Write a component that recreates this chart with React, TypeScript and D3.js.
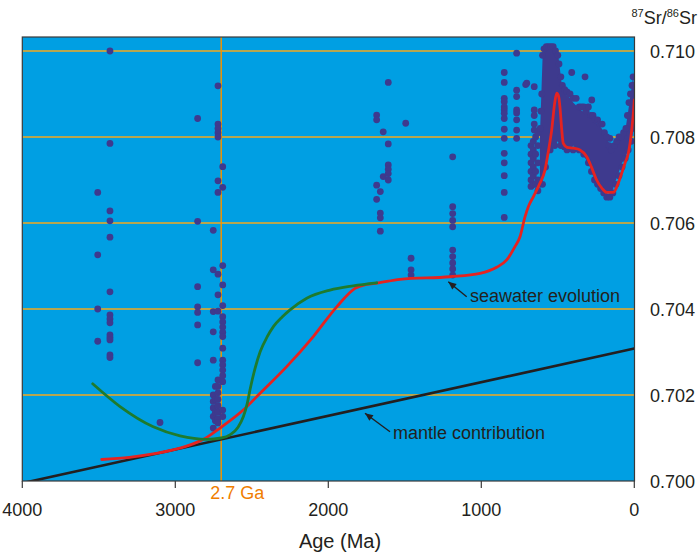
import { useEffect, useRef } from "react";
import * as d3 from "d3";

// ages in Ma, values are 87Sr/86Sr
const xTicks = [4000, 3000, 2000, 1000, 0];
const yTicks = [0.7, 0.702, 0.704, 0.706, 0.708, 0.71];
const gridValues = [0.702, 0.704, 0.706, 0.708, 0.71];

// archean / proterozoic measurements
const archeanPts: [number, number][] = [
  [3427, 0.71], [3427, 0.70785], [3427, 0.70628], [3427, 0.70605], [3427, 0.70567],
  [3427, 0.7044], [3427, 0.70386], [3427, 0.70377], [3427, 0.70368], [3427, 0.7034],
  [3427, 0.70334], [3427, 0.70328], [3427, 0.70293], [3427, 0.70287],
  [3507, 0.70671], [3507, 0.70526], [3507, 0.704], [3507, 0.70325],
  [3100, 0.70136],
  [2854, 0.70843], [2854, 0.70604], [2854, 0.70452], [2854, 0.70405], [2854, 0.70392],
  [2854, 0.70363], [2854, 0.70275],
  [2752, 0.70583], [2752, 0.70491], [2752, 0.70394], [2752, 0.70347], [2752, 0.70281],
  [2752, 0.702], [2752, 0.70185], [2752, 0.7017], [2752, 0.7015], [2752, 0.70123],
  [2738, 0.7022], [2738, 0.7019], [2738, 0.7016], [2738, 0.7014],
  [2721, 0.70919], [2721, 0.7083], [2721, 0.7082], [2721, 0.7081], [2721, 0.708],
  [2721, 0.70698], [2721, 0.70671], [2721, 0.70481], [2721, 0.70433], [2721, 0.70395],
  [2721, 0.70235], [2721, 0.7022], [2721, 0.70205], [2721, 0.7019], [2721, 0.70175],
  [2721, 0.7016], [2721, 0.70145], [2721, 0.70135],
  [2690, 0.70731], [2690, 0.70683], [2690, 0.70501], [2690, 0.70456], [2690, 0.70408],
  [2690, 0.70382], [2690, 0.7037], [2690, 0.70358], [2690, 0.70346], [2690, 0.70336],
  [2690, 0.70309], [2690, 0.70281], [2690, 0.7027], [2690, 0.70258], [2690, 0.70245],
  [2690, 0.70231], [2690, 0.70165], [2690, 0.7015],
  [1684, 0.70851], [1684, 0.7084], [1684, 0.70688], [1684, 0.70655],
  [1660, 0.70673], [1660, 0.70623], [1660, 0.70612], [1660, 0.70581],
  [1641, 0.70812], [1641, 0.70708],
  [1608, 0.70927], [1608, 0.70784], [1608, 0.70735], [1608, 0.70725], [1608, 0.70715], [1608, 0.707],
  [1494, 0.70832],
  [1459, 0.70518], [1459, 0.70491], [1459, 0.70479],
  [1187, 0.70754], [1187, 0.70638], [1187, 0.70622], [1187, 0.70606], [1187, 0.70591],
  [1187, 0.70537], [1187, 0.70522], [1187, 0.70507], [1187, 0.70493], [1187, 0.70479],
];

// neoproterozoic + phanerozoic measurements
const youngPts: [number, number][] = [
  [850, 0.7095], [850, 0.70927], [850, 0.7089], [850, 0.70882], [850, 0.7087], [850, 0.70863],
  [850, 0.70855], [850, 0.70843], [850, 0.70818], [850, 0.70797], [850, 0.70762], [850, 0.7074],
  [850, 0.7071], [850, 0.70671], [850, 0.70613],
  [769, 0.70995], [769, 0.70909], [769, 0.70894], [769, 0.70863], [769, 0.70856], [769, 0.7084],
  [769, 0.70816], [769, 0.70797],
  [710, 0.70922], [703, 0.70925],
  [654, 0.70917], [654, 0.70863], [654, 0.7085], [654, 0.7083], [654, 0.70816],
  [675, 0.7078], [675, 0.7076], [675, 0.7074], [675, 0.7072], [675, 0.707], [675, 0.70685],
  [660, 0.7079], [660, 0.7077], [660, 0.7075], [660, 0.7073], [660, 0.7071], [660, 0.7069],
  [645, 0.708], [645, 0.7076], [645, 0.7072], [645, 0.7069],
  [630, 0.7081], [630, 0.7078], [630, 0.7074], [630, 0.707], [630, 0.70675],
  [409, 0.7095], [322, 0.7094], [278, 0.70886], [159, 0.70797],
  // upper edge of the dense cloud
  [600, 0.7099], [590, 0.71005], [575, 0.7101], [560, 0.7101], [545, 0.7101], [530, 0.7101],
  [515, 0.71], [500, 0.7099], [492, 0.7097], [605, 0.709], [610, 0.7086], [615, 0.7082],
  [480, 0.7094], [470, 0.7092], [455, 0.7091], [440, 0.70905], [420, 0.709], [400, 0.7089],
  [380, 0.7089], [360, 0.7087], [345, 0.7087], [330, 0.7087], [315, 0.7086], [300, 0.7087],
  [285, 0.7085], [270, 0.7085], [255, 0.7084], [240, 0.7084], [225, 0.7083], [210, 0.7083],
  [195, 0.7081], [180, 0.708], [165, 0.7078], [150, 0.7077], [130, 0.7078], [115, 0.7079],
  [100, 0.708], [85, 0.708], [70, 0.7081], [55, 0.7082], [45, 0.7085], [35, 0.7088],
  [25, 0.709], [15, 0.7092], [8, 0.7094], [3, 0.7092],
  // lower edge of the dense cloud
  [600, 0.7069], [580, 0.7073], [550, 0.7077], [520, 0.7078], [480, 0.7078], [440, 0.7077],
  [400, 0.7077], [360, 0.7077], [330, 0.7076], [300, 0.7074], [280, 0.7072], [260, 0.707],
  [240, 0.7069], [220, 0.7068], [200, 0.7067], [180, 0.7066], [160, 0.7066], [140, 0.7067],
  [120, 0.7069], [100, 0.7071], [80, 0.7073], [60, 0.7075], [40, 0.7077], [20, 0.7079], [5, 0.7082],
];

// dense overlapping part of the cloud (< 620 Ma)
const cloudAge = [617, 600, 590, 560, 520, 500, 490, 470, 450, 420, 400, 370, 340, 300, 270, 240, 213, 180, 148, 120, 100, 80, 61, 40, 20, 8, 0];
const cloudHi = [0.708, 0.7098, 0.7101, 0.7101, 0.7101, 0.71, 0.7097, 0.7091, 0.709, 0.7089, 0.7088, 0.7087, 0.7086, 0.7086, 0.7084, 0.7083, 0.7082, 0.708, 0.7077, 0.7078, 0.7079, 0.708, 0.7081, 0.7086, 0.7091, 0.7094, 0.709];
const cloudLo = [0.7068, 0.7069, 0.7072, 0.7076, 0.7078, 0.7079, 0.7078, 0.7077, 0.7077, 0.7077, 0.7078, 0.7077, 0.7076, 0.7074, 0.7071, 0.7069, 0.7068, 0.7067, 0.7067, 0.707, 0.7072, 0.7074, 0.7075, 0.7077, 0.7079, 0.7081, 0.7083];

const seawater: [number, number][] = [
  [3481, 0.7005], [3300, 0.70055], [3144, 0.70063], [2926, 0.70081], [2800, 0.701],
  [2708, 0.70123], [2556, 0.70165], [2446, 0.70204], [2272, 0.70266], [2098, 0.70336],
  [1945, 0.70405], [1825, 0.70448], [1750, 0.70457], [1684, 0.7046], [1531, 0.70469],
  [1205, 0.70475], [1008, 0.70483], [900, 0.70497], [834, 0.70514], [780, 0.70545],
  [747, 0.70568], [714, 0.70615], [690, 0.7064], [660, 0.70661], [620, 0.7069],
  [584, 0.70723], [560, 0.7077], [540, 0.70816], [520, 0.7088], [507, 0.70902],
  [495, 0.70895], [486, 0.7087], [475, 0.7082], [464, 0.70785], [440, 0.70776],
  [399, 0.70774], [355, 0.7077], [311, 0.70754], [280, 0.7073], [246, 0.707],
  [210, 0.7068], [180, 0.70671], [137, 0.70671], [110, 0.70688], [82, 0.70716],
  [60, 0.7074], [39, 0.70762], [17, 0.70816], [5, 0.7086], [0, 0.70886],
];

const earlyModel: [number, number][] = [
  [3540, 0.70226], [3361, 0.70173], [3144, 0.70126], [2969, 0.70105], [2795, 0.70097],
  [2700, 0.701], [2640, 0.70108], [2590, 0.70125], [2555, 0.7015], [2530, 0.7018],
  [2510, 0.70215], [2480, 0.7026], [2446, 0.703], [2400, 0.70335], [2359, 0.70359],
  [2300, 0.70382], [2250, 0.70398], [2141, 0.70425], [1989, 0.70444], [1837, 0.70454],
  [1684, 0.70461],
];

const mantle: [number, number][] = [[4000, 0.69995], [0, 0.70308]];

const W = 700;
const H = 555;
const plot = { left: 22.3, right: 634.5, top: 37, bottom: 481 };

const bg = "#009fe3";
const gridCol = "#f4a81d";
const dotCol = "#3e3a8e";
const ink = "#231f20";
const font = "Arial, 'Liberation Sans', Helvetica, sans-serif";

export default function App() {
  const ref = useRef<SVGSVGElement>(null);

  useEffect(() => {
    const svg = d3.select(ref.current);
    svg.selectAll("*").remove();

    const x = d3.scaleLinear().domain([4000, 0]).range([22.3, 634.3]);
    const y = d3.scaleLinear().domain([0.7, 0.71]).range([481, 51]);

    svg.append("defs").append("clipPath").attr("id", "pclip")
      .append("rect")
      .attr("x", plot.left).attr("y", plot.top)
      .attr("width", plot.right - plot.left).attr("height", plot.bottom - plot.top);

    // background
    svg.append("rect")
      .attr("x", plot.left).attr("y", plot.top)
      .attr("width", plot.right - plot.left).attr("height", plot.bottom - plot.top)
      .attr("fill", bg);

    const g = svg.append("g").attr("clip-path", "url(#pclip)");

    // grid
    g.selectAll(".grid").data(gridValues).enter().append("line")
      .attr("x1", plot.left).attr("x2", plot.right)
      .attr("y1", (d) => y(d)).attr("y2", (d) => y(d))
      .attr("stroke", gridCol).attr("stroke-width", 1.3);

    // 2.7 Ga marker
    g.append("line")
      .attr("x1", x(2700)).attr("x2", x(2700))
      .attr("y1", plot.top).attr("y2", plot.bottom)
      .attr("stroke", "#f39200").attr("stroke-width", 1.5);

    // dense cloud
    const area = d3.area<number>()
      .x((_, i) => x(cloudAge[i]))
      .y0((_, i) => y(cloudLo[i]))
      .y1((_, i) => y(cloudHi[i]));
    g.append("path").datum(cloudAge).attr("d", area).attr("fill", dotCol);

    g.selectAll(".dot").data([...archeanPts, ...youngPts]).enter().append("circle")
      .attr("cx", (d) => x(d[0])).attr("cy", (d) => y(d[1]))
      .attr("r", 3.4).attr("fill", dotCol);

    const line = d3.line<[number, number]>()
      .x((d) => x(d[0])).y((d) => y(d[1]))
      .curve(d3.curveMonotoneX);

    g.append("path").datum(mantle)
      .attr("d", d3.line<[number, number]>().x((d) => x(d[0])).y((d) => y(d[1])))
      .attr("fill", "none").attr("stroke", ink).attr("stroke-width", 2.6);

    g.append("path").datum(seawater).attr("d", line)
      .attr("fill", "none").attr("stroke", "#e52320").attr("stroke-width", 2.8)
      .attr("stroke-linecap", "round");

    g.append("path").datum(earlyModel).attr("d", line)
      .attr("fill", "none").attr("stroke", "#1e7b2e").attr("stroke-width", 2.8)
      .attr("stroke-linecap", "round");

    // annotations
    const arrow = (x1: number, y1: number, x2: number, y2: number) => {
      svg.append("line")
        .attr("x1", x1).attr("y1", y1).attr("x2", x2).attr("y2", y2)
        .attr("stroke", ink).attr("stroke-width", 1.4);
      const ang = Math.atan2(y2 - y1, x2 - x1);
      const L = 8, Wd = 3.5;
      const bx = x2 - L * Math.cos(ang), by = y2 - L * Math.sin(ang);
      svg.append("path")
        .attr("d", `M${x2},${y2}L${bx - Wd * Math.sin(ang)},${by + Wd * Math.cos(ang)}L${bx + Wd * Math.sin(ang)},${by - Wd * Math.cos(ang)}Z`)
        .attr("fill", ink);
    };
    arrow(466.7, 296.7, 448.3, 281.7);
    arrow(390, 431.7, 365, 413.3);

    svg.append("text").attr("x", 470).attr("y", 302)
      .attr("font-family", font).attr("font-size", 18).attr("fill", ink)
      .text("seawater evolution");
    svg.append("text").attr("x", 393).attr("y", 438.5)
      .attr("font-family", font).attr("font-size", 18).attr("fill", ink)
      .text("mantle contribution");

    // frame
    svg.append("rect")
      .attr("x", plot.left).attr("y", plot.top)
      .attr("width", plot.right - plot.left).attr("height", plot.bottom - plot.top)
      .attr("fill", "none").attr("stroke", "#3a3a3a").attr("stroke-width", 1.2);

    // x axis
    const xa = svg.append("g");
    xa.selectAll("line").data(xTicks).enter().append("line")
      .attr("x1", (d) => x(d)).attr("x2", (d) => x(d))
      .attr("y1", plot.bottom).attr("y2", plot.bottom + 7)
      .attr("stroke", "#3a3a3a").attr("stroke-width", 1.2);
    xa.selectAll("text").data(xTicks).enter().append("text")
      .attr("x", (d) => x(d)).attr("y", 515.5)
      .attr("text-anchor", "middle")
      .attr("font-family", font).attr("font-size", 18).attr("fill", ink)
      .text((d) => String(d));

    svg.append("text").attr("x", 340).attr("y", 548)
      .attr("text-anchor", "middle")
      .attr("font-family", font).attr("font-size", 20).attr("fill", ink)
      .text("Age (Ma)");

    svg.append("text").attr("x", x(2700) + 16).attr("y", 498.5)
      .attr("text-anchor", "middle")
      .attr("font-family", font).attr("font-size", 18).attr("fill", "#f07d00")
      .text("2.7 Ga");

    // y labels on the right
    svg.append("g").selectAll("text").data(yTicks).enter().append("text")
      .attr("x", 650).attr("y", (d) => y(d) + 6.5)
      .attr("font-family", font).attr("font-size", 18).attr("fill", ink)
      .text((d) => d3.format(".3f")(d));

    // 87Sr/86Sr
    const t = svg.append("text").attr("x", 697).attr("y", 24)
      .attr("text-anchor", "end")
      .attr("font-family", font).attr("font-size", 18).attr("fill", ink);
    t.append("tspan").attr("font-size", 11).attr("dy", -7).text("87");
    t.append("tspan").attr("dy", 7).text("Sr/");
    t.append("tspan").attr("font-size", 11).attr("dy", -7).text("86");
    t.append("tspan").attr("dy", 7).text("Sr");
  }, []);

  return (
    <svg
      ref={ref}
      width={W}
      height={H}
      style={{ position: "absolute", left: 0, top: 0, background: "#fff" }}
    />
  );
}
